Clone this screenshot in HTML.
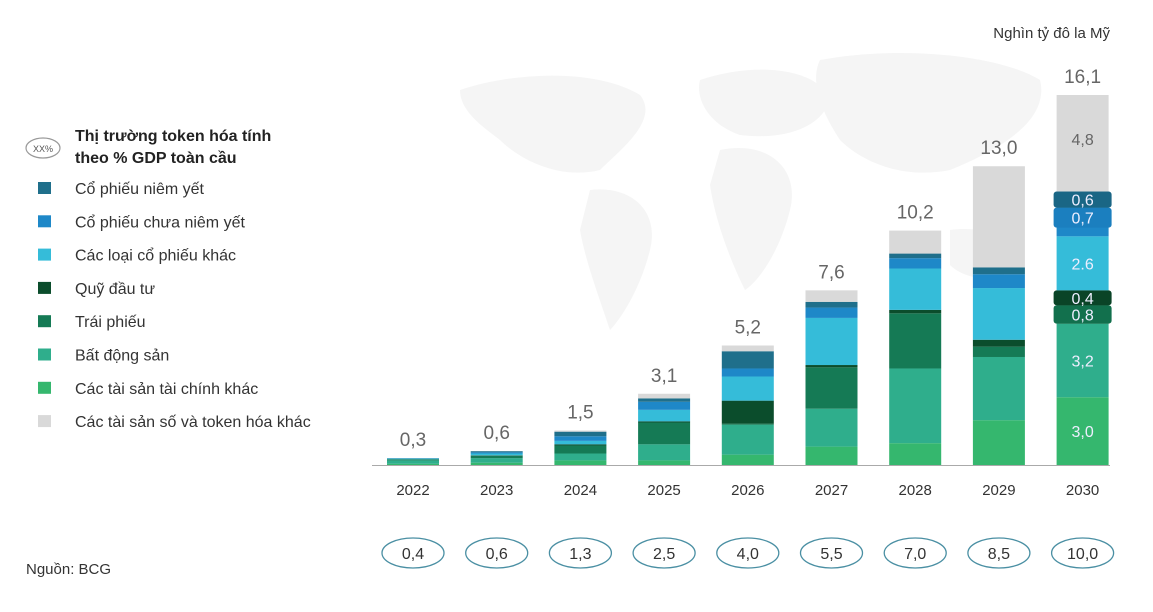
<!DOCTYPE html>
<html><head><meta charset="utf-8"><style>
body{margin:0;background:#fff;width:1153px;height:607px;overflow:hidden;font-family:"Liberation Sans",sans-serif}
</style></head><body>
<svg id="chart" width="1153" height="607" viewBox="0 0 1153 607" xmlns="http://www.w3.org/2000/svg" font-family="Liberation Sans, sans-serif">
<g id="map" fill="#f5f5f5">
<path d="M460,90 C520,70 600,70 640,95 C660,120 620,150 600,170 C560,180 520,160 500,140 C480,125 460,110 460,90Z"/>
<path d="M590,190 C630,185 660,210 650,250 C640,290 620,320 610,330 C600,300 585,260 580,230Z"/>
<path d="M700,80 C760,60 820,70 830,100 C820,130 780,140 740,135 C710,125 695,100 700,80Z"/>
<path d="M720,150 C770,140 800,170 790,210 C780,250 760,280 745,290 C730,260 715,220 710,185Z"/>
<path d="M820,60 C900,45 1000,55 1040,80 C1050,120 1000,150 950,170 C900,180 860,160 840,140 C820,110 810,80 820,60Z"/>
<path d="M950,230 C990,225 1020,240 1015,265 C1000,285 965,280 950,265Z"/>
</g>
<g id="bars"></g>
<line x1="372" y1="465.5" x2="1110" y2="465.5" stroke="#aaa" stroke-width="1"/>
<text x="1110" y="38" text-anchor="end" font-size="15" fill="#333">Nghìn tỷ đô la Mỹ</text>
<g id="legend">
<ellipse cx="43" cy="148" rx="17" ry="10" fill="none" stroke="#999" stroke-width="1.2"/>
<text x="43" y="152" text-anchor="middle" font-size="9" fill="#555">XX%</text>
<text x="75" y="141" font-size="16" font-weight="bold" fill="#222">Thị trường token hóa tính</text>
<text x="75" y="163" font-size="16" font-weight="bold" fill="#222">theo % GDP toàn cầu</text>
</g>
<text x="26" y="574" font-size="15" fill="#333">Nguồn: BCG</text>
</svg>
<script>
const years = ["2022","2023","2024","2025","2026","2027","2028","2029","2030"];
const totals = ["0,3","0,6","1,5","3,1","5,2","7,6","10,2","13,0","16,1"];
const gdpShare = ["0,4","0,6","1,3","2,5","4,0","5,5","7,0","8,5","10,0"];
const seriesNames = ["Các tài sản tài chính khác","Bất động sản","Trái phiếu","Quỹ đầu tư","Các loại cổ phiếu khác","Cổ phiếu chưa niêm yết","Cổ phiếu niêm yết","Các tài sản số và token hóa khác"];
const otherFinancial = [0.05,0.1,0.2,0.2,0.45,0.8,0.95,1.95,2.95];
const realEstate = [0.15,0.2,0.3,0.7,1.3,1.65,3.25,2.75,3.2];
const bonds = [0.05,0.1,0.35,0.95,0.05,1.8,2.4,0.45,0.8];
const funds = [0,0.02,0.05,0.05,1.0,0.1,0.15,0.3,0.65];
const otherEquities = [0.03,0.08,0.15,0.5,1.05,2.05,1.8,2.25,2.35];
const unlisted = [0.01,0.05,0.2,0.35,0.35,0.45,0.45,0.6,1.25];
const listed = [0.01,0.05,0.2,0.15,0.75,0.25,0.2,0.3,0.7];
const digital = [0,0,0.05,0.2,0.25,0.5,1.0,4.4,4.2];
const segLabels2030 = ["3,0","3,2","0,8","0,4","2.6","0,7","0,6","4,8"];
const series = [otherFinancial,realEstate,bonds,funds,otherEquities,unlisted,listed,digital];
const colors = ["#35b76e","#2fae8c","#157a55","#0b4d2c","#35bcd9","#1e88c8","#1f6f8b","#d9d9d9"];
const badge = ["","","#12704d","#0a4427","","#1b7fbf","#1a6685",""];
const segKeys = ["other-financial","real-estate","bonds","funds","other-equities","unlisted-equities","listed-equities","digital-assets"];

const NS="http://www.w3.org/2000/svg";
const base=465, pxPer=370/16.1, x0=413, step=83.7, bw=52;
const xC=i=>x0+i*step;
const yS=v=>v*pxPer;
const g=document.getElementById('bars');
function mk(t,a){const e=document.createElementNS(NS,t);for(const k in a)e.setAttribute(k,a[k]);return e;}
years.forEach((yr,i)=>{
  let acc=0;
  series.forEach((s,k)=>{
    const v=s[i]; if(v<=0){return;}
    const h=yS(v), y=base-yS(acc)-h;
    const r=mk('rect',{x:xC(i)-bw/2,y:y,width:bw,height:h,fill:colors[k]});
    
    
    g.appendChild(r);
    if(i===years.length-1){
      const cy=y+h/2;
      if(badge[k]){
        const b=mk('rect',{x:xC(i)-bw/2-3,y:y,width:bw+6,height:Math.min(h,20),rx:3,fill:badge[k]});
        
        
        g.appendChild(b);
      }
      const ty=k===7?y+50:(badge[k]?y+Math.min(h,20)/2+6:cy+6);
      const t=mk('text',{x:xC(i),y:ty,'text-anchor':'middle','font-size':'16',fill:k===7?'#666':'#eef'});
      t.textContent=segLabels2030[k];
      
      
      g.appendChild(t);
    }
    acc+=v;
  });
  const tot=otherFinancial[i]+realEstate[i]+bonds[i]+funds[i]+otherEquities[i]+unlisted[i]+listed[i]+digital[i];
  const tl=mk('text',{x:xC(i),y:base-yS(tot)-12,'text-anchor':'middle','font-size':'19',fill:'#666'});
  tl.textContent=totals[i];
  
  
  g.appendChild(tl);
  const yl=mk('text',{x:xC(i),y:495,'text-anchor':'middle','font-size':'15',fill:'#333'});
  yl.textContent=yr;
  
  
  g.appendChild(yl);
  const ov=mk('ellipse',{cx:xC(i),cy:553,rx:31,ry:15,fill:'none',stroke:'#4a8fa3','stroke-width':'1.3'});
  
  
  g.appendChild(ov);
  const ot=mk('text',{x:xC(i),y:559,'text-anchor':'middle','font-size':'16',fill:'#333'});
  ot.textContent=gdpShare[i];
  
  
  g.appendChild(ot);
});
const lg=document.getElementById('legend');
const order=[6,5,4,3,2,1,0,7];
order.forEach((k,j)=>{
  const y=189+j*33.3;
  const sq=mk('rect',{x:38,y:y-7,width:13,height:12,fill:colors[k]});
  
  
  lg.appendChild(sq);
  const t=mk('text',{x:75,y:y+5,'font-size':'16',fill:'#333'});
  t.textContent=seriesNames[k];
  
  
  lg.appendChild(t);
});
</script>
</body></html>
